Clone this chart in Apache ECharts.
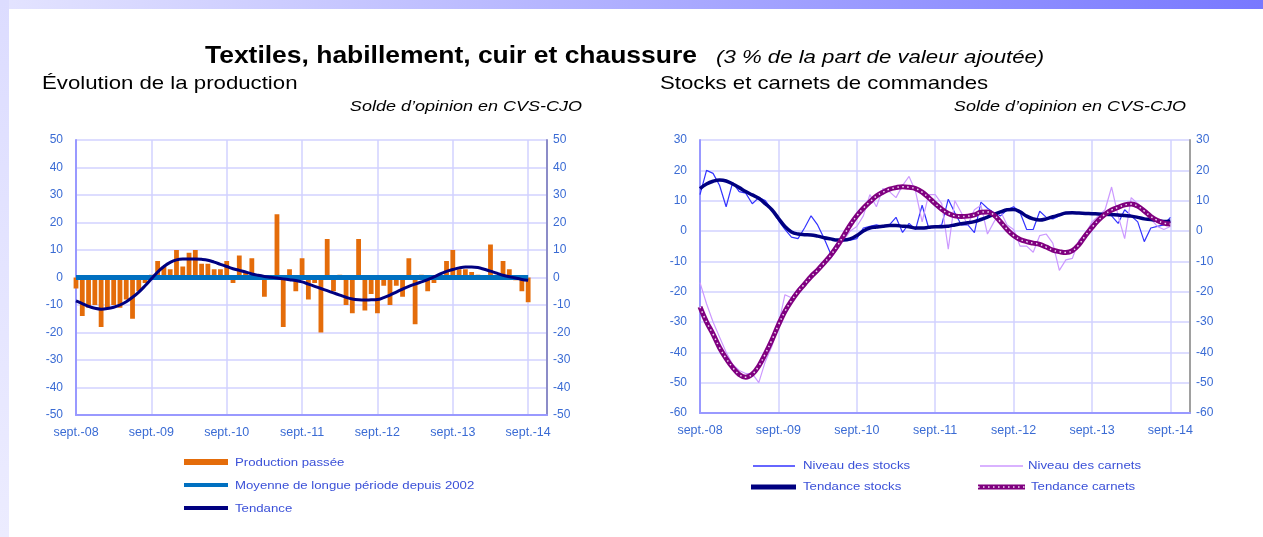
<!DOCTYPE html>
<html><head><meta charset="utf-8">
<script src="https://cdn.jsdelivr.net/npm/echarts/dist/echarts.min.js"></script>
<style>
html,body{margin:0;padding:0;width:1263px;height:537px;overflow:hidden;background:#fff;}
#topband{position:absolute;left:0;top:0;width:1263px;height:9px;background:linear-gradient(to right,#e4e4ff,#7878ff);}
#leftband{position:absolute;left:0;top:0;width:9px;height:537px;background:linear-gradient(to bottom,#dcdcff,#ececff);}
#chart{position:absolute;left:0;top:0;width:1263px;height:537px;}
</style></head>
<body>
<div id="topband"></div><div id="leftband"></div>
<div id="chart"></div>
<script>
// ---- data ----
const monthNames = ['janv.','févr.','mars','avr.','mai','juin','juil.','août','sept.','oct.','nov.','déc.'];
const categories = [];
for (let y = 2008; y <= 2014; y++) for (let m = 0; m < 12; m++) {
  if (y === 2008 && m < 8) continue;
  categories.push(monthNames[m] + '-' + String(y).slice(2));
}
const productionPassee = [-4,-14,-11,-10,-18,-11,-10,-11,-8,-15,
 -5,-2,1,6,4,3,10,4,9,10,
 5,5,3,3,6,-2,8,2,7,1,
 -7,0,23,-18,3,-5,7,-8,-2,-20,
 14,-5,1,-10,-13,14,-12,-6,-13,-3,
 -10,-3,-7,7,-17,1,-5,-2,1,6,
 10,3,3,2,1,0,12,1,6,3,
 -1,-5,-9];
const moyenneLonguePeriode = [0,0,0,0,0,0,0,0,0,0,0,0,0,0,0,0,0,0,0,0,0,0,0,0,0,0,0,0,0,0,0,0,0,0,0,0,0,0,0,0,0,0,0,0,0,0,0,0,0,0,0,0,0,0,0,0,0,0,0,0,0,0,0,0,0,0,0,0,0,0,0,0,0];
const tendanceProduction = [-8.5,-9.5,-10.5,-11.2,-11.5,-11.3,-10.8,-10,-8.8,-7.2,
 -5.3,-3,-0.5,2,4,5.5,6.4,6.7,6.7,6.7,
 6.6,6.3,5.6,4.8,4,3.2,2.6,2,1.3,0.8,
 0.4,0.1,-0.2,-0.5,-0.8,-1.1,-1.6,-2.4,-3.2,-4,
 -4.8,-5.6,-6.4,-7.2,-7.8,-8.1,-8.2,-8.1,-8,-7.3,
 -6.4,-5.3,-4.2,-3.2,-2.4,-1.6,-0.8,0.2,1.3,2.2,
 2.9,3.5,3.8,3.8,3.6,3,2.3,1.6,0.8,0.3,
 -0.2,-0.7,-1];
const niveauStocks = [12,20,19,15,8,16,13,12.5,9,11,
 10,7,3.5,0.5,-2,-2.5,1,5,2,-2.5,
 -7.5,-4,-3,-3,-2.5,1,1.5,2,1.5,2,
 4.5,-0.5,2.5,0.5,8.5,1,1.5,2,10.5,6,
 2,2,-0.5,9.5,7.5,6,5,7,8,6,
 0.5,0.5,6.5,4.5,4,5,6,6,6,6,
 6,5.5,6,5,2.5,7,5,3,-3.5,1,
 1.5,2,4.5];
const tendanceStocks = [14,15.5,16.4,16.8,16.5,15.5,14.3,13,11.9,10.8,
 9,7,4.2,1.5,-0.3,-1,-1.2,-1.3,-1.7,-2.2,
 -2.6,-3,-3,-2.6,-1.5,0,1,1.3,1.6,1.8,
 1.8,1.6,1.4,1,1,1.2,1.4,1.4,1.6,2,
 2.4,2.7,3.1,3.8,4.6,5.5,6.3,7,7.1,6.3,
 4.9,4,3.6,4,4.7,5.3,5.9,6,5.9,5.8,
 5.7,5.6,5.5,5.4,5.3,5.1,4.9,4.5,4,3.8,
 3.4,3.1,3.3];
const niveauCarnets = [-17,-24,-30,-35,-40,-44,-46,-47,-47,-50,
 -43,-38,-31,-21,-22,-19,-17,-15,-13,-11,
 -9,-6,-3,0,1.5,5,12,8,14,13,
 11,15,18,13,3,12,12,9,-6,10,
 6,2,7,8.5,-1,3,6.5,2,0.5,-5,
 -5,-7,-1.5,-1,-4,-13,-9.5,-9,-3,-1,
 3,5,7,14.5,5,-2.5,11,9,7,4,
 1.5,0.5,1.5];
const tendanceCarnets = [-25,-30,-34,-38.5,-42,-45,-47.3,-48.2,-47.2,-44.5,
 -40.5,-36,-31,-26.5,-23,-20,-17.5,-15,-12.9,-10.5,
 -8,-5,-1.5,2,5,7.5,9.6,11.5,12.8,13.8,
 14.3,14.6,14.4,14,12.8,11,9,7.2,5.8,5,
 4.8,4.9,5.3,6.2,6.3,5.3,3,0.5,-1.5,-2.8,
 -3.5,-4,-4.4,-5.3,-6.3,-6.8,-7.1,-6.5,-4.5,-1.5,
 1.2,3.6,5.5,6.9,7.8,8.6,8.9,8.2,6.6,4.8,
 3.5,2.6,2.3];

// ---- styles ----
const FONT = '"Liberation Sans", Arial, sans-serif';
const LBL = '#3a6bd4';
const LEG = '#3a50d8';
const GRIDC = '#d2d2ff';
const ORANGE = '#E46C0A', MOY = '#0070C0', NAVY = '#000080', BLUE = '#3333ff', LILAC = '#cc99ff', PURPLE = '#800080';

function xAx(gi) {
  return {type:'category', gridIndex:gi, data:categories, boundaryGap:false,
    axisLine:{onZero:false, lineStyle:{color:'#9999ff', width:2}},
    axisTick:{show:false},
    axisLabel:{interval:11, color:LBL, fontSize:12.5, fontFamily:FONT, margin:11},
    splitLine:{show:true, interval:11, lineStyle:{color:GRIDC, width:1.5}}};
}
function yAx(gi, pos, min, max, lineColor, split) {
  return {type:'value', gridIndex:gi, position:pos, min:min, max:max, interval:10,
    axisLine:{show:true, lineStyle:{color:lineColor, width:2}},
    axisTick:{show:false},
    axisLabel:{color:LBL, fontSize:12, fontFamily:FONT, margin: pos === 'left' ? 13 : 6},
    splitLine:{show:split, lineStyle:{color:GRIDC, width:1.5}}};
}
function txt(x, y, text, size, opts) {
  opts = opts || {};
  return {type:'text', x:x, y:y, scaleX: opts.scaleX || 1.2, z:10,
    style:{text:text, fontSize:size, fontFamily:FONT, fontWeight:opts.weight||'normal',
      fontStyle:opts.style||'normal', fill:opts.color||'#000', align:opts.align||'left', verticalAlign:'middle'}};
}
function seg(x1, x2, y, color, w, dash) {
  return {type:'line', z:10, shape:{x1:x1, y1:y, x2:x2, y2:y},
    style:{stroke:color, lineWidth:w, lineDash: dash || null}};
}

const chart = echarts.init(document.getElementById('chart'));
chart.setOption({
  animation:false,
  grid:[{left:76, top:140, width:471, height:275},
        {left:700, top:140, width:490, height:273}],
  xAxis:[xAx(0), xAx(1)],
  yAxis:[yAx(0,'left',-50,50,'#9999ff',true), yAx(0,'right',-50,50,'#8c8cc8',false),
         yAx(1,'left',-60,30,'#9999ff',true), yAx(1,'right',-60,30,'#a0a0a0',false)],
  series:[
    {name:'Production passée', type:'bar', xAxisIndex:0, yAxisIndex:0, data:productionPassee,
      barWidth:4.8, itemStyle:{color:ORANGE}, z:2},
    {name:'Moyenne de longue période depuis 2002', type:'line', xAxisIndex:0, yAxisIndex:0, data:moyenneLonguePeriode,
      symbol:'none', lineStyle:{color:MOY, width:5}, z:3},
    {name:'Tendance', type:'line', xAxisIndex:0, yAxisIndex:0, data:tendanceProduction,
      symbol:'none', smooth:0.4, lineStyle:{color:NAVY, width:3}, z:4},
    {name:'Niveau des stocks', type:'line', xAxisIndex:1, yAxisIndex:2, data:niveauStocks,
      symbol:'none', lineStyle:{color:BLUE, width:1.2}, z:2},
    {name:'Niveau des carnets', type:'line', xAxisIndex:1, yAxisIndex:2, data:niveauCarnets,
      symbol:'none', lineStyle:{color:LILAC, width:1.2}, z:2},
    {name:'Tendance stocks', type:'line', xAxisIndex:1, yAxisIndex:2, data:tendanceStocks,
      symbol:'none', smooth:0.4, lineStyle:{color:NAVY, width:3.5}, z:3},
    {name:'Tendance carnets', type:'line', xAxisIndex:1, yAxisIndex:2, data:tendanceCarnets,
      symbol:'none', smooth:0.4, lineStyle:{color:PURPLE, width:5}, z:4},
    {name:'Tendance carnets (pointillés)', type:'line', xAxisIndex:1, yAxisIndex:2, data:tendanceCarnets,
      symbol:'none', smooth:0.4, lineStyle:{color:'#f2dcf2', width:1.5, type:[1.5,3.5]}, z:5, silent:true}
  ],
  graphic:[
    txt(205, 57, 'Textiles, habillement, cuir et chaussure', 23, {weight:'bold', scaleX:1.15}),
    txt(716, 58, '(3 % de la part de valeur ajoutée)', 18.5, {style:'italic'}),
    txt(42, 84, 'Évolution de la production', 18.5),
    txt(660, 84, 'Stocks et carnets de commandes', 18.5),
    txt(582, 107, 'Solde d\u2019opinion en CVS-CJO', 15, {style:'italic', align:'right'}),
    txt(1186, 107, 'Solde d\u2019opinion en CVS-CJO', 15, {style:'italic', align:'right'}),
    // left legend
    {type:'rect', z:10, shape:{x:184, y:459, width:44, height:6}, style:{fill:ORANGE}},
    txt(235, 463, 'Production passée', 11, {color:LEG}),
    seg(184, 228, 485, MOY, 4),
    txt(235, 486, 'Moyenne de longue période depuis 2002', 11, {color:LEG}),
    seg(184, 228, 508, NAVY, 4),
    txt(235, 509, 'Tendance', 11, {color:LEG}),
    // right legend
    seg(753, 795, 466, BLUE, 1.5),
    txt(803, 466, 'Niveau des stocks', 11, {color:LEG}),
    seg(751, 796, 487, NAVY, 5),
    txt(803, 487, 'Tendance stocks', 11, {color:LEG}),
    seg(980, 1023, 466, LILAC, 1.5),
    txt(1028, 466, 'Niveau des carnets', 11, {color:LEG}),
    seg(978, 1025, 487, PURPLE, 5),
    seg(978, 1025, 487, '#f2dcf2', 1.5, [1.5, 3.5]),
    txt(1031, 487, 'Tendance carnets', 11, {color:LEG})
  ]
});
</script>
</body></html>
